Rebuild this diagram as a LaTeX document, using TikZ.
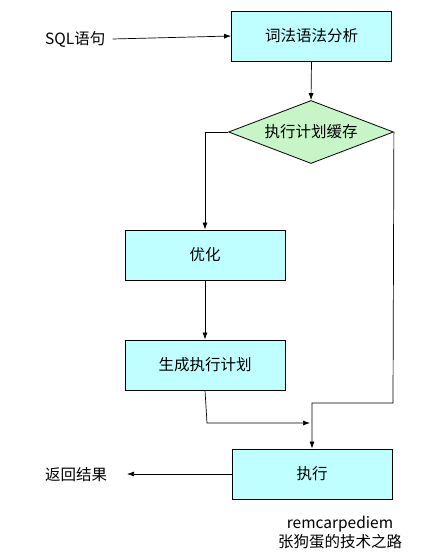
\documentclass[tikz,border=0pt]{standalone}
\usepackage{fontspec}
\setmainfont{Noto Sans CJK SC}
\usetikzlibrary{shapes.geometric,arrows.meta}
\definecolor{boxcyan}{HTML}{C0FFFF}
\definecolor{diagreen}{HTML}{C8F5C8}
\begin{document}
\begin{tikzpicture}[x=1pt,y=-1pt,
  box/.style={draw=black,fill=boxcyan,minimum width=160pt,minimum height=50pt,inner sep=0pt,font=\fontsize{15.5}{18}\selectfont,line width=0.8pt},
  lbl/.style={font=\fontsize{15.5}{18}\selectfont,inner sep=0pt},
  arr/.style={-{Latex[length=7pt,width=5pt]},line width=0.7pt},
  ln/.style={line width=0.7pt}]
\useasboundingbox (0,0) rectangle (436,556);
\node[box] (lex) at (311.5,36) {词法语法分析};
\node[draw=black,fill=diagreen,diamond,aspect=2.6,minimum width=165pt,minimum height=63pt,inner sep=0pt,font=\fontsize{15.5}{18}\selectfont,line width=0.8pt] (cache) at (311,132) {执行计划缓存};
\node[box] (opt) at (205,255) {优化};
\node[box] (gen) at (205,365) {生成执行计划};
\node[box] (exec) at (312,474) {执行};
\node[lbl,anchor=west] (sql) at (45,39) {SQL语句};
\node[lbl,anchor=west] (ret) at (45,475) {返回结果};
\node[font=\fontsize{15.5}{19}\selectfont,align=center,inner sep=0pt] (foot) at (340,533) {remcarpediem\\张狗蛋的技术之路};
\coordinate (j1) at (205,132);
\coordinate (j2) at (207,423);
\coordinate (j3) at (310,423);
\coordinate (r1) at (393,403);
\coordinate (r2) at (312,403);
\coordinate (rt) at (127,474);
\draw[arr] (sql.east) ++(7,0) -- (lex.west);
\draw[arr] (lex.south) -- (cache.north);
\draw[arr] (cache.west) -- (j1) -- (opt.north);
\draw[arr] (opt.south) -- (gen.north);
\draw[arr] (gen.south) -- (j2) -- (j3);
\draw[arr] (cache.east) -- (r1) -- (r2) -- (exec.north);
\draw[arr] (exec.west) -- (rt);
\end{tikzpicture}
\end{document}
